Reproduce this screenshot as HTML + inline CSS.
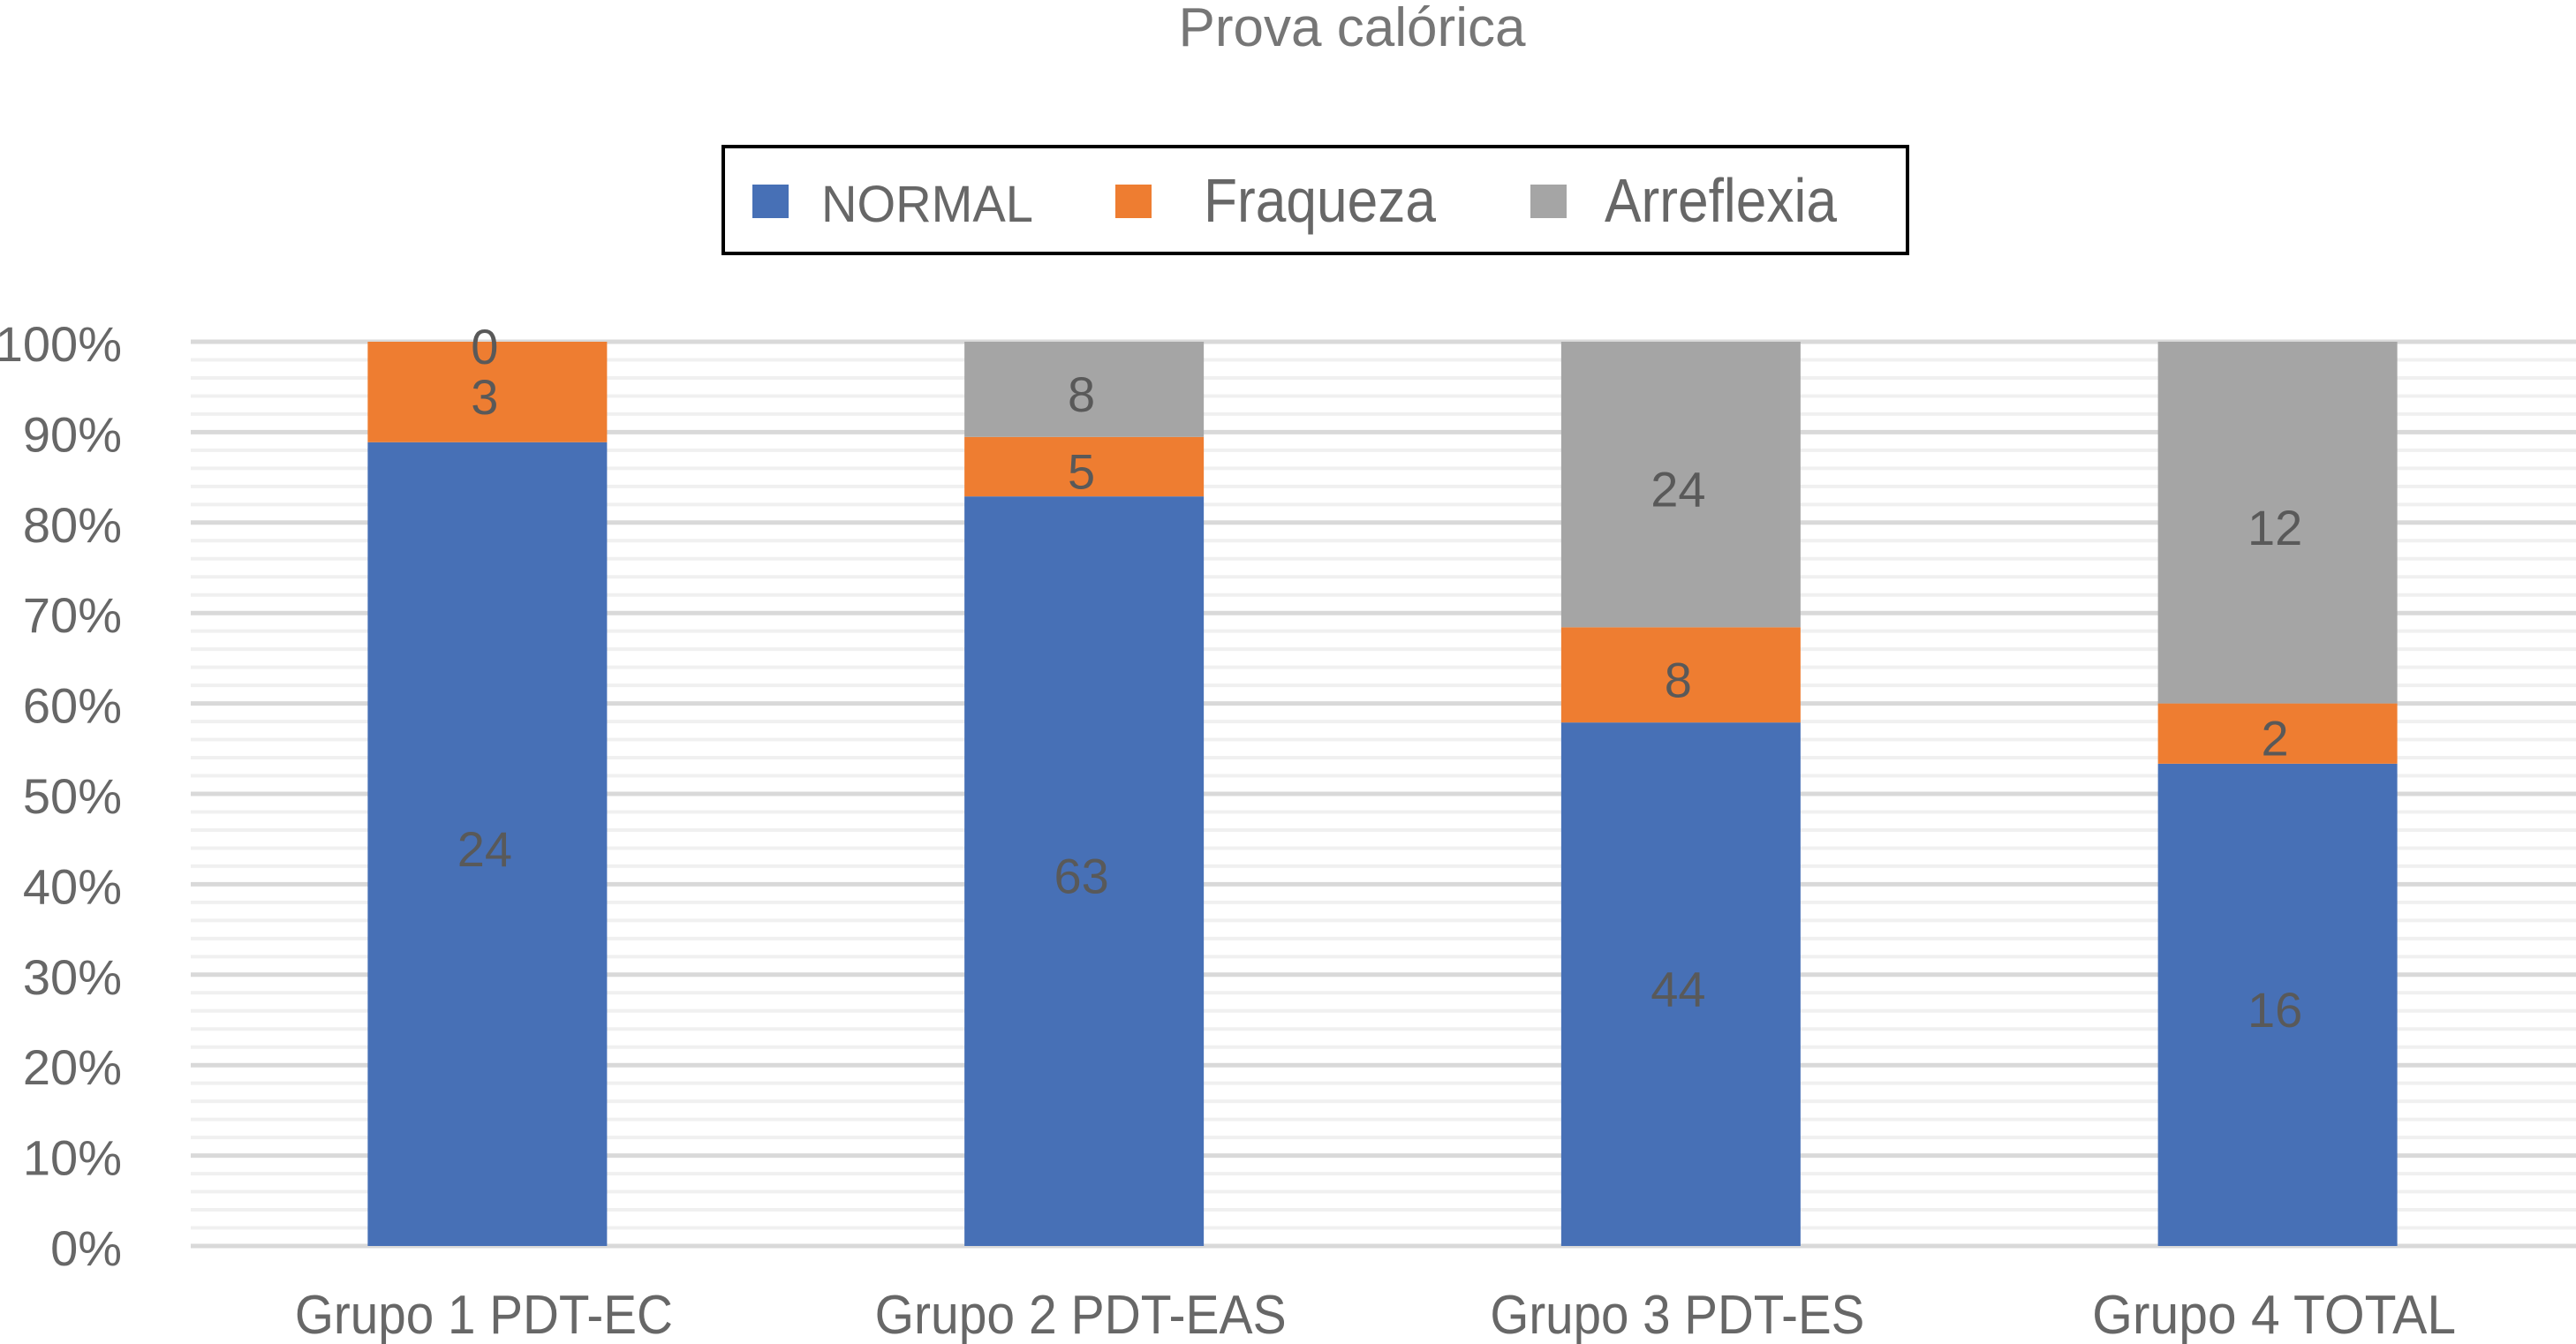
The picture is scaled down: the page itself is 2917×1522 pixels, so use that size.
<!DOCTYPE html>
<html><head><meta charset="utf-8"><style>
html,body{margin:0;padding:0;background:#fff}
svg{display:block;font-family:"Liberation Sans",sans-serif}
</style></head><body>
<svg id="chart" width="2917" height="1522" viewBox="0 0 2917 1522" xmlns="http://www.w3.org/2000/svg">
<text x="1531" y="52" text-anchor="middle" font-size="62" fill="#767676" textLength="393" lengthAdjust="spacingAndGlyphs">Prova calórica</text>
<g>
<rect x="819" y="166" width="1341" height="121" fill="#fff" stroke="#000" stroke-width="4"/>
<rect x="852" y="209" width="41" height="38" fill="#4770b6"/>
<text x="930" y="251" font-size="58" fill="#676767" textLength="240" lengthAdjust="spacingAndGlyphs">NORMAL</text>
<rect x="1263" y="209" width="41" height="38" fill="#ee7d31"/>
<text x="1363" y="251" font-size="70" fill="#676767" textLength="263" lengthAdjust="spacingAndGlyphs">Fraqueza</text>
<rect x="1733" y="209" width="41" height="38" fill="#a5a5a5"/>
<text x="1817" y="251" font-size="70" fill="#676767" textLength="263" lengthAdjust="spacingAndGlyphs">Arreflexia</text>
</g>
<g id="grid"></g><g id="bars"></g><g id="labels"></g>
</svg>
<script>
const categories = ["Grupo 1 PDT-EC","Grupo 2 PDT-EAS","Grupo 3 PDT-ES","Grupo 4 TOTAL"];
const normalValues = [24,63,44,16];
const fraquezaValues = [3,5,8,2];
const arreflexiaValues = [0,8,24,12];
const yTicks = ["0%","10%","20%","30%","40%","50%","60%","70%","80%","90%","100%"];
const catWidths = [428,466,424,412];

const NS="http://www.w3.org/2000/svg";
const X0=214, X1=2917, Y0=1411, Y100=387;
const band=(X1-X0)/categories.length, barW=271;
const y=p=>Y0-(Y0-Y100)*p;
const xc=i=>X0+band*(i+0.5);
function mk(tag,attrs,parent){const e=document.createElementNS(NS,tag);for(const k in attrs)e.setAttribute(k,attrs[k]);parent.appendChild(e);return e;}
const grid=document.getElementById('grid'),bars=document.getElementById('bars'),labels=document.getElementById('labels');
for(let k=0;k<=50;k++){
  const major=k%5===0;
  const l=mk('line',{x1:216,x2:X1,y1:y(k/50),y2:y(k/50),stroke:major?'#d9d9d9':'#f0f0f0','stroke-width':major?5:4},grid);
  
  
}
yTicks.forEach((t,i)=>{
  const e=mk('text',{x:138,y:y(i/10)+22,'text-anchor':'end','font-size':56,fill:'#676767'},labels);
  e.textContent=t;
  
  
});
const series=[["normal",normalValues,"#4770b6"],["fraqueza",fraquezaValues,"#ee7d31"],["arreflexia",arreflexiaValues,"#a5a5a5"]];
categories.forEach((c,i)=>{
  const tot=normalValues[i]+fraquezaValues[i]+arreflexiaValues[i];
  let cum=0;
  series.forEach(([name,vals,col])=>{
    const v=vals[i],p0=cum/tot,p1=(cum+v)/tot;cum+=v;
    const r=mk('rect',{x:xc(i)-barW/2,y:y(p1),width:barW,height:y(p0)-y(p1),fill:col},bars);
    
    
    const t=mk('text',{x:xc(i)-3,y:(y(p0)+y(p1))/2+25,'text-anchor':'middle','font-size':56,fill:'#595959'},labels);
    t.textContent=v;
    
    
  });
  const xl=mk('text',{x:xc(i)-4,y:1510,'text-anchor':'middle','font-size':62,fill:'#676767',textLength:catWidths[i],lengthAdjust:'spacingAndGlyphs'},labels);
  xl.textContent=c;
  
  
});
</script>
</body></html>
